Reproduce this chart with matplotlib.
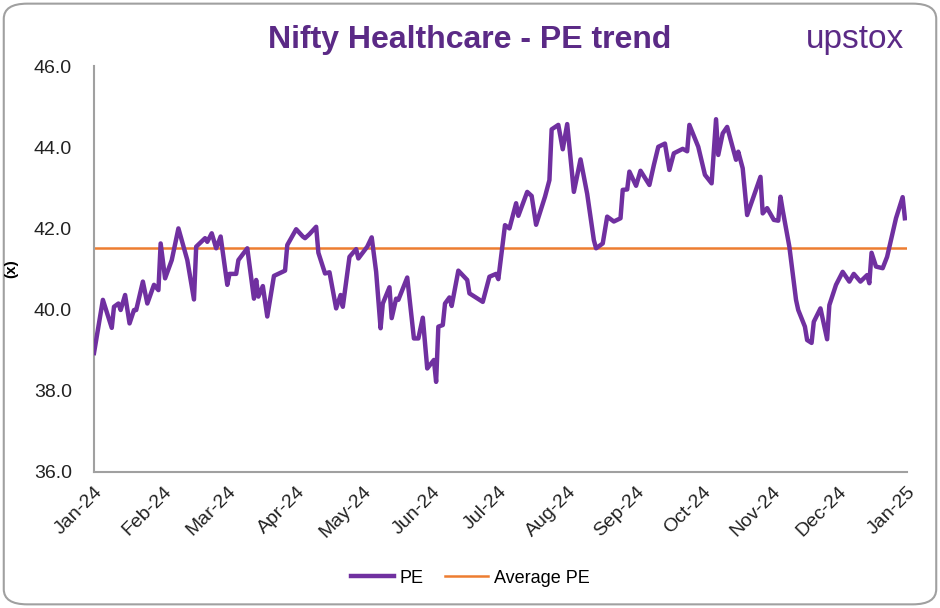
import matplotlib
matplotlib.use("Agg")
import matplotlib.pyplot as plt
import matplotlib.dates as mdates
from matplotlib.patches import FancyBboxPatch
import pandas as pd

dates = [
    "2024-01-01", "2024-01-05", "2024-01-09", "2024-01-10", "2024-01-12", "2024-01-13",
    "2024-01-15", "2024-01-17", "2024-01-19", "2024-01-20", "2024-01-23", "2024-01-25",
    "2024-01-28", "2024-01-30", "2024-01-31", "2024-02-02", "2024-02-05", "2024-02-08",
    "2024-02-12", "2024-02-15", "2024-02-16", "2024-02-20", "2024-02-21", "2024-02-23",
    "2024-02-25", "2024-02-27", "2024-03-01", "2024-03-02", "2024-03-05", "2024-03-06",
    "2024-03-10", "2024-03-13", "2024-03-14", "2024-03-15", "2024-03-17", "2024-03-19",
    "2024-03-22", "2024-03-27", "2024-03-28", "2024-04-01", "2024-04-04", "2024-04-05",
    "2024-04-07", "2024-04-10", "2024-04-11", "2024-04-14", "2024-04-16", "2024-04-19",
    "2024-04-21", "2024-04-22", "2024-04-25", "2024-04-28", "2024-04-29", "2024-05-03",
    "2024-05-05", "2024-05-07", "2024-05-09", "2024-05-10", "2024-05-13", "2024-05-14",
    "2024-05-16", "2024-05-17", "2024-05-21", "2024-05-24", "2024-05-26", "2024-05-28",
    "2024-05-30", "2024-06-02", "2024-06-03", "2024-06-04", "2024-06-06", "2024-06-07",
    "2024-06-09", "2024-06-10", "2024-06-13", "2024-06-17", "2024-06-18", "2024-06-24",
    "2024-06-27", "2024-06-30", "2024-07-01", "2024-07-04", "2024-07-06", "2024-07-09",
    "2024-07-10", "2024-07-14", "2024-07-16", "2024-07-18", "2024-07-22", "2024-07-24",
    "2024-07-25", "2024-07-28", "2024-07-30", "2024-08-01", "2024-08-04", "2024-08-07",
    "2024-08-10", "2024-08-13", "2024-08-14", "2024-08-17", "2024-08-19", "2024-08-22",
    "2024-08-25", "2024-08-26", "2024-08-28", "2024-08-29", "2024-09-01", "2024-09-03",
    "2024-09-07", "2024-09-09", "2024-09-11", "2024-09-14", "2024-09-16", "2024-09-18",
    "2024-09-22", "2024-09-24", "2024-09-25", "2024-09-29", "2024-10-02", "2024-10-05",
    "2024-10-07", "2024-10-08", "2024-10-10", "2024-10-12", "2024-10-15", "2024-10-16",
    "2024-10-17", "2024-10-19", "2024-10-21", "2024-10-27", "2024-10-28", "2024-10-30",
    "2024-11-02", "2024-11-04", "2024-11-05", "2024-11-06", "2024-11-09", "2024-11-12",
    "2024-11-13", "2024-11-16", "2024-11-17", "2024-11-19", "2024-11-20", "2024-11-23",
    "2024-11-26", "2024-11-27", "2024-11-30", "2024-12-03", "2024-12-06", "2024-12-08",
    "2024-12-11", "2024-12-14", "2024-12-15", "2024-12-16", "2024-12-18", "2024-12-21",
    "2024-12-23", "2024-12-27", "2024-12-30", "2024-12-31",
]

pe = [
    38.93, 40.24, 39.55, 40.07, 40.15, 39.99,
    40.36, 39.66, 39.99, 39.99, 40.69, 40.15,
    40.61, 40.48, 41.63, 40.77, 41.22, 42.00,
    41.22, 40.25, 41.55, 41.76, 41.67, 41.88,
    41.51, 41.80, 40.61, 40.88, 40.88, 41.22,
    41.51, 40.27, 40.73, 40.32, 40.58, 39.83,
    40.83, 40.96, 41.59, 41.98, 41.80, 41.76,
    41.86, 42.04, 41.40, 40.89, 40.92, 40.03,
    40.36, 40.07, 41.30, 41.49, 41.26, 41.55,
    41.78, 40.93, 39.54, 40.15, 40.55, 39.79,
    40.27, 40.24, 40.79, 39.29, 39.29, 39.80,
    38.55, 38.76, 38.22, 39.58, 39.62, 40.15,
    40.30, 40.09, 40.96, 40.73, 40.40, 40.19,
    40.81, 40.88, 40.75, 42.08, 42.00, 42.62,
    42.31, 42.90, 42.80, 42.09, 42.78, 43.19,
    44.44, 44.55, 43.95, 44.57, 42.90, 43.70,
    42.85, 41.71, 41.51, 41.63, 42.29, 42.17,
    42.25, 42.95, 42.96, 43.40, 43.05, 43.42,
    43.07, 43.56, 44.01, 44.09, 43.44, 43.85,
    43.96, 43.90, 44.55, 44.01, 43.32, 43.11,
    44.69, 43.81, 44.34, 44.50, 43.89, 43.69,
    43.89, 43.48, 42.33, 43.27, 42.37, 42.50,
    42.21, 42.19, 42.78, 42.45, 41.55, 40.24,
    39.99, 39.58, 39.25, 39.18, 39.70, 40.03,
    39.27, 40.11, 40.61, 40.93, 40.69, 40.88,
    40.69, 40.85, 40.65, 41.40, 41.06, 41.02,
    41.30, 42.25, 42.77, 42.25,
]

average_pe = 41.52
title = "Nifty Healthcare - PE trend"
y_ticks = [36.0, 38.0, 40.0, 42.0, 44.0, 46.0]
x_start, x_end = "2024-01-01", "2025-01-01"

purple = "#7030A0"
orange = "#ED7D31"
title_color = "#5B2A86"

plt.rcParams['font.family'] = ['Liberation Sans', 'DejaVu Sans']
fig = plt.figure(figsize=(9.4, 6.08), dpi=100)

border = FancyBboxPatch((0.004, 0.006), 0.992, 0.988,
                        boxstyle="round,pad=0,rounding_size=0.025",
                        transform=fig.transFigure, facecolor="white",
                        edgecolor="#A0A0A0", linewidth=1.5, zorder=-10)
fig.patches.append(border)

ax = fig.add_axes([0.1, 0.2237, 0.865, 0.6677])
x = pd.to_datetime(dates)
ax.plot(x, pe, color=purple, linewidth=3.2, solid_joinstyle="round", label="PE", zorder=3)
ax.plot([pd.Timestamp(x_start), pd.Timestamp(x_end)], [average_pe, average_pe],
        color=orange, linewidth=1.8, label="Average PE", zorder=2)

ax.set_xlim(pd.Timestamp(x_start), pd.Timestamp(x_end))
ax.set_ylim(36, 46)
ax.set_yticks(y_ticks)
ax.set_yticklabels([f"{v:.1f}" for v in y_ticks], fontsize=14)
ax.xaxis.set_major_locator(mdates.MonthLocator())
ax.xaxis.set_major_formatter(mdates.DateFormatter("%b-%y"))
for lbl in ax.get_xticklabels():
    lbl.set_rotation(45)
    lbl.set_ha("right")
    lbl.set_rotation_mode("anchor")
    lbl.set_fontsize(14)
ax.tick_params(axis="both", length=0, colors="#222222")
ax.tick_params(axis="x", pad=8)
ax.tick_params(axis="y", pad=16)
for s in ["top", "right"]:
    ax.spines[s].set_visible(False)
for s in ["left", "bottom"]:
    ax.spines[s].set_color("#A0A0A0")
    ax.spines[s].set_linewidth(1.5)
ax.set_ylabel("(x)", fontsize=11, fontweight="bold")
ax.yaxis.set_label_coords(-0.093, 0.5)

fig.text(0.5, 0.935, title, ha="center", va="center", fontsize=23,
         fontweight="bold", color=title_color)
fig.text(0.91, 0.935, "upstox", ha="center", va="center", fontsize=24,
         color=title_color)

leg = fig.legend(loc="center", bbox_to_anchor=(0.5, 0.049), ncol=2, frameon=False,
                 fontsize=13, handlelength=2.4, columnspacing=1.2, handletextpad=0.3)

fig.savefig("out.png", dpi=100)
